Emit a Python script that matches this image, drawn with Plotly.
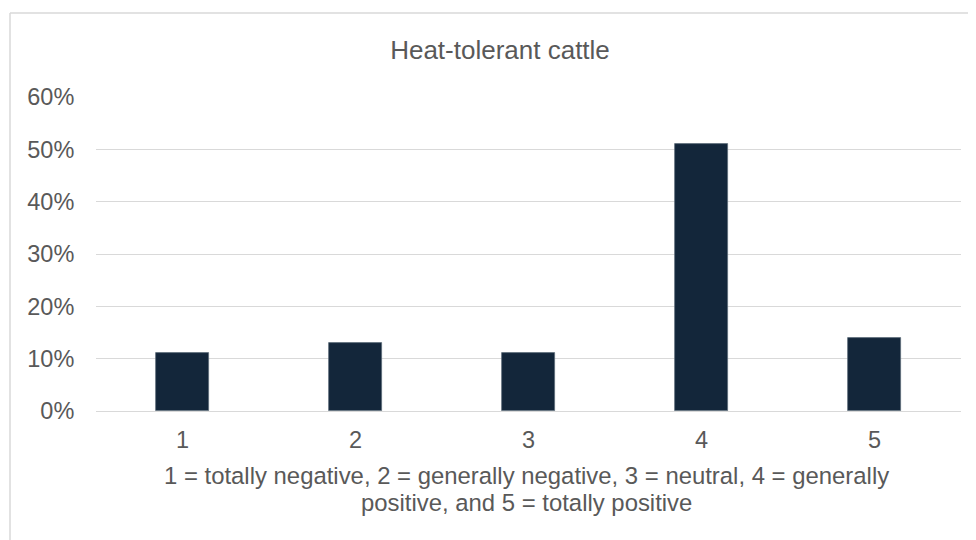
import plotly.graph_objects as go

# survey scale 1-5, share of respondents
categories = ["1", "2", "3", "4", "5"]
shares = [0.11, 0.13, 0.11, 0.51, 0.14]
y_ticks = [0, 0.1, 0.2, 0.3, 0.4, 0.5, 0.6]
y_tick_labels = ["0%", "10%", "20%", "30%", "40%", "50%", "60%"]
chart_title = "Heat-tolerant cattle"
caption_lines = [
    "1 = totally negative, 2 = generally negative, 3 = neutral, 4 = generally",
    "positive, and 5 = totally positive",
]

TEXT = "#595959"
GRID = "#D9D9D9"
FS = 23.5

# page body has an 8px margin, so the figure is 968x532
W, H = 968, 532
L, R, T, B = 88, 15, 89, 129
plot_h = H - T - B


def py(y_pix):
    # figure pixel -> paper y
    return (H - B - y_pix) / plot_h


def px(x_pix):
    return (x_pix - L) / (W - L - R)


fig = go.Figure()
fig.add_trace(
    go.Bar(
        x=categories,
        y=shares,
        width=0.31,
        marker=dict(color="#13263A", line=dict(color="#5C6B78", width=0.75)),
        hoverinfo="x+y",
    )
)

fig.update_layout(
    width=W,
    height=H,
    margin=dict(l=L, r=R, t=T, b=B),
    paper_bgcolor="white",
    plot_bgcolor="white",
    font=dict(family="Liberation Sans, Arial, sans-serif", size=FS, color=TEXT),
    showlegend=False,
    title=dict(
        text=chart_title,
        x=492 / W,
        xref="container",
        xanchor="center",
        y=1 - 42 / H,
        yref="container",
        yanchor="middle",
        font=dict(size=26, color=TEXT),
    ),
    bargap=0,
)
fig.update_xaxes(
    showgrid=False,
    showline=False,
    zeroline=False,
    ticks="outside",
    ticklen=8,
    tickcolor="rgba(0,0,0,0)",
)
fig.update_yaxes(
    range=[0, 0.6],
    tickvals=y_ticks,
    ticktext=y_tick_labels,
    showgrid=True,
    gridcolor=GRID,
    gridwidth=1,
    zeroline=True,
    zerolinecolor=GRID,
    zerolinewidth=1,
    showline=False,
    ticks="outside",
    ticklen=16,
    tickcolor="rgba(0,0,0,0)",
)

# axis caption below the category labels, one annotation per line
for line, y_pix in zip(caption_lines, [467, 494]):
    fig.add_annotation(
        text=line,
        xref="paper",
        yref="paper",
        x=px(518),
        y=py(y_pix),
        xanchor="center",
        yanchor="middle",
        showarrow=False,
        font=dict(size=23.9, color=TEXT),
    )

# chart frame (top and left edges visible)
fx = px(2)
fy = py(5)
fig.add_shape(type="line", xref="paper", yref="paper", x0=fx, x1=1.1, y0=fy, y1=fy,
              line=dict(color=GRID, width=1.5))
fig.add_shape(type="line", xref="paper", yref="paper", x0=fx, x1=fx, y0=fy, y1=py(H + 10),
              line=dict(color=GRID, width=1.5))

fig.write_html("out.html")
